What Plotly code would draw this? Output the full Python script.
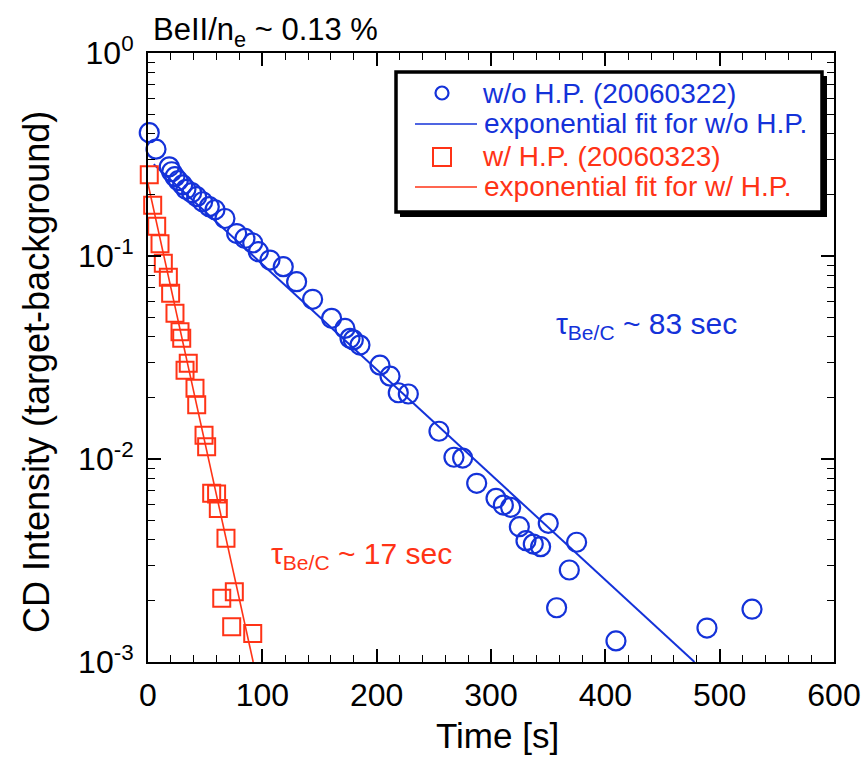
import plotly.graph_objects as go

# ---------------- data ----------------
t_wo = [1.1, 7.0, 18.6, 20.7, 23.6, 26.5, 30.3, 33.2, 38.2, 42.6, 47.8, 53.6, 58.6,
        67.3, 77.6, 84.8, 91.6, 96.5, 106.7, 118.3, 130.0, 144.0, 160.6, 172.3,
        176.7, 179.6, 185.4, 202.9, 211.7, 218.9, 227.7, 254.5, 267.6, 275.2,
        287.5, 304.4, 310.8, 317.2, 324.8, 330.6, 337.0, 343.4, 350.1, 357.4,
        368.5, 374.9, 409.3, 488.9, 528.3]
cd_wo = [0.405, 0.336, 0.275, 0.260, 0.246, 0.235, 0.224, 0.213, 0.205, 0.196, 0.185,
         0.175, 0.169, 0.153, 0.129, 0.122, 0.116, 0.105, 0.0955, 0.0886, 0.0747,
         0.0612, 0.0493, 0.0440, 0.0393, 0.0386, 0.0364, 0.0290, 0.0256, 0.0212,
         0.0209, 0.0137, 0.0102, 0.0101, 0.00759, 0.00640, 0.00593, 0.00578,
         0.00464, 0.00396, 0.00381, 0.00370, 0.00482, 0.00185, 0.00284, 0.00389,
         0.00127, 0.00147, 0.00182]

t_w = [1.1, 4.1, 7.6, 10.5, 13.4, 17.8, 19.8, 23.6, 28.0, 29.5, 35.2, 32.4, 41.1,
       42.6, 49.0, 51.3, 55.7, 60.0, 61.5, 68.2, 64.5, 75.5, 73.2, 91.6]
cd_w = [0.251, 0.178, 0.140, 0.115, 0.0921, 0.0785, 0.0655, 0.0522, 0.0424, 0.0393,
        0.0296, 0.0274, 0.0223, 0.0185, 0.0131, 0.0115, 0.00678, 0.00673, 0.00571,
        0.00407, 0.00206, 0.00222, 0.00149, 0.00138]

# exponential fits (straight lines on the log axis), end points
fit_wo_t = [5.0, 478.0]
fit_wo_cd = [0.283, 0.001]
fit_w_t = [0.0, 92.0]
fit_w_cd = [0.227, 0.001]

x_ticks = [0, 100, 200, 300, 400, 500, 600]
y_ticks = [1e-3, 1e-2, 1e-1, 1e0]
y_ticktext = ["10<sup>-3</sup>", "10<sup>-2</sup>", "10<sup>-1</sup>", "10<sup>0</sup>"]

legend_labels = ["w/o H.P. (20060322)", "exponential fit for w/o H.P.",
                 "w/ H.P. (20060323)", "exponential fit for w/ H.P."]

BLUE = "#1432d9"
RED = "#ff3316"
FONT = "Arial, Liberation Sans, sans-serif"

# plot-area geometry in pixels
L, R, T, B = 148, 834, 53, 662
W, H = 864, 757


def px(x):
    return (x - L) / (R - L)


def py(y):
    return (B - y) / (B - T)


fig = go.Figure()
fig.add_trace(go.Scatter(x=fit_wo_t, y=fit_wo_cd, mode="lines",
                         line=dict(color=BLUE, width=2), showlegend=False))
fig.add_trace(go.Scatter(x=fit_w_t, y=fit_w_cd, mode="lines",
                         line=dict(color=RED, width=1.6), showlegend=False))
fig.add_trace(go.Scatter(x=t_wo, y=cd_wo, mode="markers", cliponaxis=False,
                         marker=dict(symbol="circle-open", size=19,
                                     line=dict(color=BLUE, width=2.2), color=BLUE),
                         showlegend=False))
fig.add_trace(go.Scatter(x=t_w, y=cd_w, mode="markers", cliponaxis=False,
                         marker=dict(symbol="square-open", size=17,
                                     line=dict(color=RED, width=2), color=RED),
                         showlegend=False))

minor_y = [m * 10 ** k for k in (-3, -2, -1) for m in range(2, 10)]

fig.update_xaxes(range=[0, 600], tickvals=x_ticks, ticks="inside", ticklen=13,
                 tickwidth=1.5, tickcolor="black", showline=True, linewidth=2,
                 linecolor="black", mirror="ticks", showgrid=False, zeroline=False,
                 automargin=False,
                 tickfont=dict(family=FONT, size=32, color="black"),
                 minor=dict(dtick=20, ticks="inside", ticklen=7, tickwidth=1.2,
                            tickcolor="black", showgrid=False),
                 ticklabelstandoff=4)
fig.update_yaxes(type="log", range=[-3, 0], tickvals=y_ticks, ticktext=y_ticktext,
                 ticks="inside", ticklen=13, tickwidth=1.5, tickcolor="black",
                 showline=True, linewidth=2, linecolor="black", mirror="ticks",
                 showgrid=False, zeroline=False, automargin=False,
                 tickfont=dict(family=FONT, size=32, color="black"),
                 minor=dict(tickvals=minor_y, ticks="inside", ticklen=7,
                            tickwidth=1.2, tickcolor="black", showgrid=False),
                 ticklabelstandoff=6)

shapes = []
# legend shadow and box
shapes.append(dict(type="rect", xref="paper", yref="paper",
                   x0=px(400), x1=px(827), y0=py(217), y1=py(76),
                   fillcolor="black", line=dict(width=0), layer="above"))
shapes.append(dict(type="rect", xref="paper", yref="paper",
                   x0=px(396), x1=px(822), y0=py(212), y1=py(72),
                   fillcolor="white", line=dict(color="black", width=3.5), layer="above"))
# legend symbols
shapes.append(dict(type="circle", xref="paper", yref="paper",
                   x0=px(442 - 6.5), x1=px(442 + 6.5), y0=py(93 + 6.5), y1=py(93 - 6.5),
                   line=dict(color=BLUE, width=2.2), layer="above"))
shapes.append(dict(type="line", xref="paper", yref="paper",
                   x0=px(415), x1=px(477), y0=py(124), y1=py(124),
                   line=dict(color=BLUE, width=1.5), layer="above"))
shapes.append(dict(type="rect", xref="paper", yref="paper",
                   x0=px(433), x1=px(451), y0=py(166), y1=py(148),
                   line=dict(color=RED, width=2), layer="above"))
shapes.append(dict(type="line", xref="paper", yref="paper",
                   x0=px(415), x1=px(477), y0=py(187), y1=py(187),
                   line=dict(color=RED, width=1.5), layer="above"))

annotations = []
legend_rows = [(480, 93, BLUE), (482, 124, BLUE), (480, 156, RED), (482, 187, RED)]
for lab, (lx, ly, col) in zip(legend_labels, legend_rows):
    annotations.append(dict(text=lab, xref="paper", yref="paper", x=px(lx), y=py(ly),
                            xanchor="left", yanchor="middle", showarrow=False,
                            font=dict(family=FONT, size=28, color=col)))

annotations.append(dict(text="BeII/n<sub>e</sub> ~ 0.13 %", xref="paper", yref="paper",
                        x=px(151), y=py(32), xanchor="left", yanchor="middle",
                        showarrow=False, font=dict(family=FONT, size=31, color="black")))
annotations.append(dict(text="τ<sub>Be/C</sub> ~ 83 sec", xref="paper", yref="paper",
                        x=px(554), y=py(325), xanchor="left", yanchor="middle",
                        showarrow=False, font=dict(family=FONT, size=30, color=BLUE)))
annotations.append(dict(text="τ<sub>Be/C</sub> ~ 17 sec", xref="paper", yref="paper",
                        x=px(269), y=py(555), xanchor="left", yanchor="middle",
                        showarrow=False, font=dict(family=FONT, size=30, color=RED)))
annotations.append(dict(text="Time [s]", xref="paper", yref="paper",
                        x=px(497), y=py(735), xanchor="center", yanchor="middle",
                        showarrow=False, font=dict(family=FONT, size=35, color="black")))
annotations.append(dict(text="CD Intensity (target-background)", xref="paper",
                        yref="paper", x=px(36), y=py(372), xanchor="center",
                        yanchor="middle", textangle=-90, showarrow=False,
                        font=dict(family=FONT, size=36, color="black")))

fig.update_layout(width=W, height=H, margin=dict(l=L, r=W - R, t=T, b=H - B),
                  autosize=False,
                  plot_bgcolor="white", paper_bgcolor="white", showlegend=False,
                  shapes=shapes, annotations=annotations)

fig.write_html("out.html", config={"displayModeBar": False, "responsive": False},
               post_script="document.body.style.margin='0';"
                           "document.body.style.overflow='hidden';")
